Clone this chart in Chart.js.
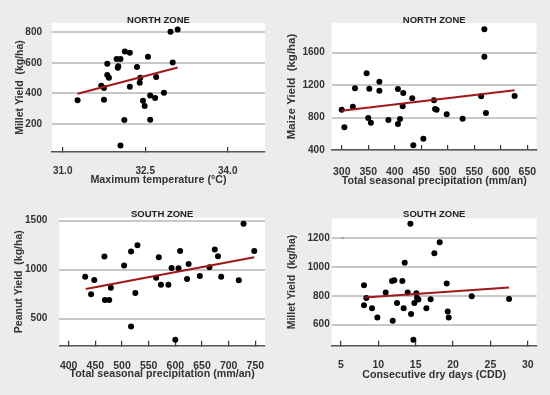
<!DOCTYPE html>
<html>
<head>
<meta charset="utf-8">
<script src="https://cdn.jsdelivr.net/npm/chart.js@4.4.1/dist/chart.umd.min.js"></script>
<style>
  html, body { margin: 0; padding: 0; background: #ececec; }
  #wrap { position: relative; width: 550px; height: 395px; overflow: hidden; }
  canvas { position: absolute; }
</style>
</head>
<body>
<div id="wrap">
  <canvas id="p1" width="275" height="195" style="left:0;top:0"></canvas>
  <canvas id="p2" width="275" height="195" style="left:275px;top:0"></canvas>
  <canvas id="p3" width="275" height="200" style="left:0;top:195px"></canvas>
  <canvas id="p4" width="275" height="200" style="left:275px;top:195px"></canvas>
</div>
<script>
// North zone: maximum temperature vs millet yield
const tempMax = [31.27, 31.70, 31.75, 31.75, 31.81, 31.81, 31.84, 31.98, 32.05, 32.00, 32.01, 32.13, 32.22, 32.12, 32.05,
  32.22, 32.35, 32.41, 32.40, 32.46, 32.49, 32.55, 32.59, 32.59, 32.68, 32.70, 32.84, 32.96, 33.09, 33.00];
const milletNorth = [355, 450, 436, 358, 594, 520, 502, 625, 625, 568, 577, 675, 666, 226, 58,
  443, 572, 502, 469, 351, 318, 640, 386, 228, 369, 507, 404, 804, 818, 603];
const tempTrendX = [31.27, 33.09];
const tempTrendY = [397, 570];

// North zone: seasonal precipitation vs maize yield
const precipNorth = [300, 305, 321, 325, 347, 350, 352, 355, 371, 371, 388, 406, 406, 410, 416,
  415, 433, 435, 454, 474, 476, 479, 498, 528, 563, 569, 569, 572, 626];
const maizeNorth = [897, 680, 934, 1160, 1345, 795, 1156, 737, 1243, 1132, 770, 1152, 721, 782, 1103,
  938, 1037, 458, 540, 1012, 905, 895, 840, 786, 1062, 1888, 1551, 856, 1066];
const maizeTrendX = [300, 626];
const maizeTrendY = [885, 1136];

// South zone: seasonal precipitation vs peanut yield
const precipSouth = [431, 442, 448, 467, 468, 476, 479, 504, 517, 517, 525, 529, 564, 569, 573,
  587, 593, 600, 606, 609, 622, 625, 646, 664, 674, 680, 686, 719, 728, 748];
const peanutSouth = [928, 747, 894, 1133, 689, 689, 815, 1041, 1185, 419, 761, 1249, 918, 1126, 846,
  846, 1017, 282, 1014, 1191, 904, 1058, 935, 1024, 1205, 1137, 928, 891, 1468, 1191];
const peanutTrendX = [432, 748];
const peanutTrendY = [802, 1126];

// South zone: consecutive dry days vs millet yield
const cdd = [8.08, 8.08, 8.39, 9.15, 9.87, 10.98, 11.83, 12.14, 11.92, 12.5, 13.21, 13.39, 13.53, 13.93, 14.29,
  14.38, 14.69, 14.82, 15.09, 15.18, 15.36, 16.43, 17.0, 17.5, 18.21, 19.15, 19.29, 19.42, 22.5, 27.5];
const milletSouth = [874, 735, 786, 714, 650, 823, 904, 909, 627, 751, 904, 714, 1031, 823, 1302,
  675, 495, 751, 818, 786, 775, 714, 777, 1096, 1172, 886, 691, 650, 798, 779];
const cddTrendX = [8.2, 27.5];
const cddTrendY = [788, 858];
const cddStrayX = [5.1, 5.35]; // small red mark near 1200 in the original
const cddStrayY = [1196, 1204];

// Tick values
const tempTicks = [31.0, 32.5, 34.0];
const milletNorthTicks = [200, 400, 600, 800];
const precipNorthTicks = [300, 350, 400, 450, 500, 550, 600, 650];
const maizeTicks = [400, 800, 1200, 1600];
const precipSouthTicks = [400, 450, 500, 550, 600, 650, 700, 750];
const peanutTicks = [500, 1000, 1500];
const cddTicks = [5, 10, 15, 20, 25, 30];
const milletSouthTicks = [600, 800, 1000, 1200];

const textColor = "#333";
const fontFamily = "Liberation Sans, Arial, sans-serif";
const toPoints = (xs, ys) => xs.map((x, i) => ({ x: x, y: ys[i] }));

// white plot background
const plotBackground = {
  id: "plotBackground",
  beforeDraw(chart) {
    const { ctx, chartArea } = chart;
    ctx.save();
    ctx.fillStyle = "#fff";
    ctx.fillRect(chartArea.left, chartArea.top, chartArea.right - chartArea.left, chartArea.bottom - chartArea.top);
    ctx.restore();
  },
};

function makePanel(id, p) {
  const datasets = [
    {
      data: toPoints(p.xs, p.ys),
      backgroundColor: "#000",
      borderColor: "#000",
      pointRadius: 3,
      pointBorderWidth: 0,
      order: 1,
      clip: false,
    },
    {
      data: toPoints(p.trendX, p.trendY),
      showLine: true,
      borderColor: "#a01818",
      borderWidth: 2,
      pointRadius: 0,
      order: 0,
    },
  ];
  if (p.extra) {
    datasets.push({
      data: toPoints(p.extra[0], p.extra[1]),
      showLine: true,
      borderColor: "#d04040",
      borderWidth: 1,
      pointRadius: 0,
      order: 0,
    });
  }

  return new Chart(document.getElementById(id), {
    type: "scatter",
    data: { datasets: datasets },
    options: {
      responsive: false,
      animation: false,
      events: [],
      layout: { padding: { left: 0, right: p.padRight, top: 0, bottom: 0 } },
      plugins: {
        legend: { display: false },
        tooltip: { enabled: false },
        title: {
          display: true,
          text: p.title,
          fullSize: false,
          color: "#222",
          font: { family: fontFamily, size: 9.5, weight: "bold", lineHeight: 0.6 },
          padding: { top: p.titleTop, bottom: p.titleBottom },
        },
      },
      scales: {
        x: {
          type: "linear",
          min: p.xMin,
          max: p.xMax,
          afterBuildTicks: (s) => { s.ticks = p.xTicks.map((v) => ({ value: v })); },
          afterFit: (s) => { s.height = p.xHeight; s.paddingLeft = 0; s.paddingRight = 0; },
          border: { display: true, color: "#555", width: 1.5 },
          grid: { drawOnChartArea: false, drawTicks: true, tickLength: -5, color: "#333", lineWidth: 1.2 },
          ticks: {
            color: textColor,
            padding: p.xTickPad,
            maxRotation: 0,
            autoSkip: false,
            font: { family: fontFamily, size: p.xTickSize, weight: "bold" },
            callback: (v) => (p.xDecimals ? Number(v).toFixed(p.xDecimals) : String(v)),
          },
          title: {
            display: true,
            text: p.xTitle,
            color: textColor,
            font: { family: fontFamily, size: 10.7, weight: "bold", lineHeight: 1.2 },
            padding: { top: 0, bottom: p.xTitleBottom },
          },
        },
        y: {
          type: "linear",
          min: p.yMin,
          max: p.yMax,
          afterBuildTicks: (s) => { s.ticks = p.yTicks.map((v) => ({ value: v })); },
          afterFit: (s) => { s.width = p.yWidth; s.paddingTop = 0; s.paddingBottom = 0; },
          border: { display: false },
          grid: { drawTicks: false, color: "#c9c9c9", lineWidth: 2 },
          ticks: {
            color: textColor,
            padding: p.yTickPad,
            autoSkip: false,
            font: { family: fontFamily, size: 10, weight: "bold" },
            callback: (v) => String(v),
          },
          title: {
            display: true,
            text: p.yTitle,
            color: textColor,
            font: { family: fontFamily, size: p.yTitleSize, weight: "bold", lineHeight: 1.2 },
            padding: { top: p.yTitleTop, bottom: 0 },
          },
        },
      },
    },
    plugins: [plotBackground],
  });
}

// North zone - millet vs temperature
makePanel("p1", {
  xs: tempMax, ys: milletNorth, trendX: tempTrendX, trendY: tempTrendY,
  title: "NORTH ZONE", titleTop: 17.15, titleBottom: 0.15,
  xMin: 30.805, xMax: 34.678, xTicks: tempTicks, xDecimals: 1,
  yMin: 16, yMax: 861, yTicks: milletNorthTicks,
  padRight: 10, yWidth: 52, xHeight: 43,
  xTickPad: 18, xTickSize: 10, xTitle: "Maximum temperature (°C)", xTitleBottom: 8.1,
  yTickPad: 10, yTitle: "Millet Yield  (kg/ha)", yTitleSize: 10.5, yTitleTop: 13.7,
});

// North zone - maize vs precipitation
makePanel("p2", {
  xs: precipNorth, ys: maizeNorth, trendX: maizeTrendX, trendY: maizeTrendY,
  title: "NORTH ZONE", titleTop: 17.15, titleBottom: 0.15,
  xMin: 281.1, xMax: 667.7, xTicks: precipNorthTicks,
  yMin: 400, yMax: 1966, yTicks: maizeTicks,
  padRight: 13.3, yWidth: 56.7, xHeight: 45,
  xTickPad: 20.7, xTickSize: 10.5, xTitle: "Total seasonal precipitation (mm/an)", xTitleBottom: 7.6,
  yTickPad: 7, yTitle: "Maize Yield  (kg/ha)", yTitleSize: 11.5, yTitleTop: 10.1,
});

// South zone - peanut vs precipitation
makePanel("p3", {
  xs: precipSouth, ys: peanutSouth, trendX: peanutTrendX, trendY: peanutTrendY,
  title: "SOUTH ZONE", titleTop: 16.45, titleBottom: 0.55,
  xMin: 382.4, xMax: 768.2, xTicks: precipSouthTicks,
  yMin: 222, yMax: 1531, yTicks: peanutTicks,
  padRight: 10, yWidth: 59.3, xHeight: 49.3,
  xTickPad: 19, xTickSize: 10.5, xTitle: "Total seasonal precipitation (mm/an)", xTitleBottom: 14.1,
  yTickPad: 12, yTitle: "Peanut Yield  (kg/ha)", yTitleSize: 10.5, yTitleTop: 12.7,
});

// South zone - millet vs consecutive dry days
makePanel("p4", {
  xs: cdd, ys: milletSouth, trendX: cddTrendX, trendY: cddTrendY, extra: [cddStrayX, cddStrayY],
  title: "SOUTH ZONE", titleTop: 16.45, titleBottom: 1.15,
  xMin: 3.755, xMax: 31.2, xTicks: cddTicks,
  yMin: 454, yMax: 1339, yTicks: milletSouthTicks,
  padRight: 13.3, yWidth: 56.7, xHeight: 49.3,
  xTickPad: 18.5, xTickSize: 10.5, xTitle: "Consecutive dry days (CDD)", xTitleBottom: 13.9,
  yTickPad: 2, yTitle: "Millet Yield  (kg/ha)", yTitleSize: 10.5, yTitleTop: 11,
});
</script>
</body>
</html>
